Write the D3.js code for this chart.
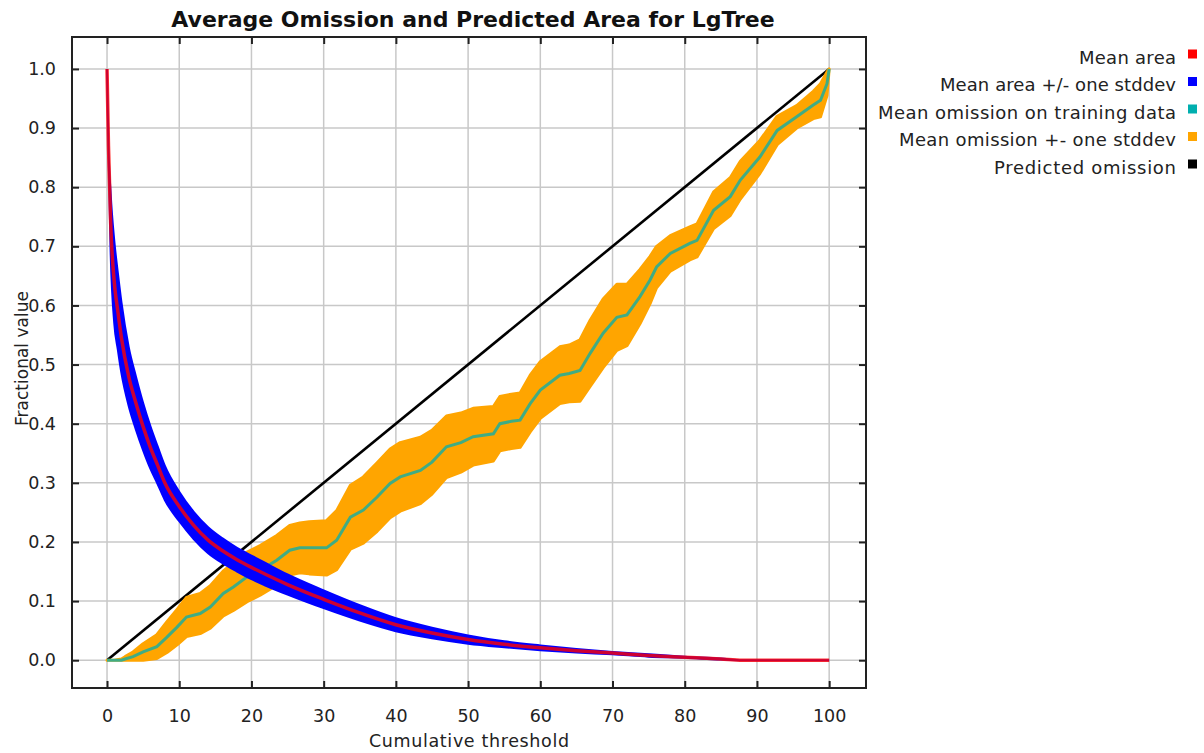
<!DOCTYPE html>
<html>
<head>
<meta charset="utf-8">
<script src="https://cdn.jsdelivr.net/npm/d3@7"></script>
<style>
  html, body { margin: 0; padding: 0; background: #fff; }
  svg { display: block; }
  text { font-family: "DejaVu Sans", sans-serif; fill: #222; }
</style>
</head>
<body>
<svg id="chart" width="1204" height="753"></svg>
<script>
// ---- Data ----
const title = "Average Omission and Predicted Area for LgTree";
const xLabel = "Cumulative threshold";
const yLabel = "Fractional value";
const xTicks = [0, 10, 20, 30, 40, 50, 60, 70, 80, 90, 100];
const yTicks = [0.0, 0.1, 0.2, 0.3, 0.4, 0.5, 0.6, 0.7, 0.8, 0.9, 1.0];

// Mean area (red) and its stddev (blue band)
const areaX  = [0, 0.2, 0.5, 1, 1.5, 2, 3, 4, 5, 6, 7, 8, 10, 12, 14, 16, 18, 20, 22, 25, 30, 35, 40, 45, 50, 55, 60, 65, 70, 75, 80, 85, 88, 100];
const areaY  = [1.0, 0.87, 0.74, 0.64, 0.59, 0.545, 0.48, 0.435, 0.395, 0.36, 0.33, 0.3, 0.26, 0.228, 0.203, 0.185, 0.17, 0.157, 0.145, 0.128, 0.103, 0.08, 0.06, 0.046, 0.035, 0.027, 0.021, 0.016, 0.012, 0.008, 0.005, 0.002, 0, 0];
const areaSd = [0, 0, 0.05, 0.07, 0.065, 0.06, 0.05, 0.045, 0.04, 0.036, 0.032, 0.029, 0.025, 0.023, 0.022, 0.021, 0.02, 0.02, 0.019, 0.017, 0.015, 0.013, 0.011, 0.009, 0.007, 0.005, 0.004, 0.003, 0.002, 0.002, 0.001, 0.001, 0, 0];

// Mean omission on training data (teal) and its stddev (orange band)
const omX  = [0, 1, 2, 2.5, 3.6, 5, 6.9, 8.3, 9.7, 11, 12.9, 14.3, 16.1, 17.5, 19.4, 21.2, 23.5, 25.3, 26.7, 28, 30.4, 31.8, 33.7, 35.5, 37.4, 39.2, 40.6, 43.4, 45, 47, 49, 50.7, 53.5, 54.4, 56, 57.2, 58.6, 60, 62.7, 64, 65.5, 66.9, 68.7, 70.6, 72, 73.8, 75.2, 76.1, 78, 80.7, 81.7, 84, 86.3, 87.7, 90.4, 92.8, 95.5, 97.8, 98.8, 99.7, 100];
const omY  = [0, 0, 0, 0.002, 0.006, 0.014, 0.023, 0.039, 0.056, 0.073, 0.079, 0.09, 0.113, 0.124, 0.141, 0.152, 0.169, 0.186, 0.19, 0.19, 0.19, 0.203, 0.242, 0.254, 0.276, 0.299, 0.31, 0.321, 0.335, 0.361, 0.368, 0.378, 0.383, 0.40, 0.404, 0.406, 0.434, 0.457, 0.482, 0.485, 0.49, 0.519, 0.553, 0.58, 0.584, 0.615, 0.643, 0.665, 0.688, 0.705, 0.71, 0.761, 0.784, 0.812, 0.851, 0.896, 0.919, 0.939, 0.947, 0.975, 1.0];
const omSd = [0, 0, 0.002, 0.004, 0.008, 0.014, 0.02, 0.026, 0.03, 0.033, 0.034, 0.036, 0.038, 0.04, 0.042, 0.042, 0.042, 0.042, 0.042, 0.044, 0.046, 0.05, 0.054, 0.056, 0.058, 0.058, 0.058, 0.056, 0.054, 0.052, 0.05, 0.048, 0.046, 0.046, 0.046, 0.046, 0.048, 0.048, 0.048, 0.048, 0.052, 0.056, 0.058, 0.056, 0.052, 0.046, 0.04, 0.035, 0.03, 0.028, 0.028, 0.031, 0.032, 0.032, 0.028, 0.024, 0.019, 0.023, 0.028, 0.02, 0];

// Predicted omission (black)
const predX = [0, 100];
const predY = [0, 1];

const legendLabels = ["Mean area", "Mean area +/- one stddev", "Mean omission on training data", "Mean omission +- one stddev", "Predicted omission"];
const legendWidths = [97, 236, 298, 277, 182];
const legendColors = ["#ff0000", "#0000ff", "#00afaf", "#ffa500", "#000000"];

// ---- Layout ----
const plot = { left: 72, top: 37, right: 866, bottom: 688 };
const svg = d3.select("#chart");

const x = d3.scaleLinear().domain([-4.85, 105.1]).range([plot.left, plot.right]);
const y = d3.scaleLinear().domain([-0.047, 1.054]).range([plot.bottom, plot.top]);

// Title
svg.append("text")
  .attr("x", (plot.left + plot.right) / 2 + 4).attr("y", 27)
  .attr("text-anchor", "middle")
  .style("font-weight", "bold").style("font-size", "22px").style("fill", "#111")
  .text(title);

// Gridlines
const grid = svg.append("g");
grid.selectAll("line.gx").data(xTicks).join("line")
  .attr("x1", d => x(d)).attr("x2", d => x(d))
  .attr("y1", plot.top).attr("y2", plot.bottom)
  .attr("stroke", "#c8c8c8").attr("stroke-width", 1.5);
grid.selectAll("line.gy").data(yTicks).join("line")
  .attr("y1", d => y(d)).attr("y2", d => y(d))
  .attr("x1", plot.left).attr("x2", plot.right)
  .attr("stroke", "#c8c8c8").attr("stroke-width", 1.5);

// Clip
svg.append("clipPath").attr("id", "clip").append("rect")
  .attr("x", plot.left).attr("y", plot.top)
  .attr("width", plot.right - plot.left).attr("height", plot.bottom - plot.top);
const g = svg.append("g").attr("clip-path", "url(#clip)");

// Predicted omission (bottom layer)
const predData = predX.map((v, i) => ({ x: v, y: predY[i] }));
g.append("path").datum(predData)
  .attr("fill", "none").attr("stroke", "#000").attr("stroke-width", 2.6)
  .attr("d", d3.line().x(d => x(d.x)).y(d => y(d.y)));

// Omission band
const omData = omX.map((v, i) => ({ x: v, y: omY[i], sd: omSd[i] }));
g.append("path").datum(omData)
  .attr("fill", "#ffa500").attr("stroke", "#ffa500").attr("stroke-width", 3).attr("stroke-linejoin", "round")
  .attr("d", d3.area().x(d => x(d.x)).y0(d => y(Math.max(0, d.y - d.sd))).y1(d => y(d.y + d.sd)));

// Omission mean line
g.append("path").datum(omData)
  .attr("fill", "none").attr("stroke", "#00afaf").attr("stroke-opacity", 0.75).attr("stroke-width", 3)
  .attr("d", d3.line().x(d => x(d.x)).y(d => y(d.y)));

// Area band
const areaData = areaX.map((v, i) => ({ x: v, y: areaY[i], sd: areaSd[i] }));
g.append("path").datum(areaData)
  .attr("fill", "#0000ff").attr("stroke", "#0000ff").attr("stroke-width", 2)
  .attr("d", d3.area().x(d => x(d.x)).y0(d => y(Math.max(0, d.y - d.sd))).y1(d => y(d.y + d.sd)).curve(d3.curveMonotoneX));

// Mean area line
g.append("path").datum(areaData)
  .attr("fill", "none").attr("stroke", "#ff0000").attr("stroke-opacity", 0.8).attr("stroke-width", 3.5)
  .attr("d", d3.line().x(d => x(d.x)).y(d => y(d.y)).curve(d3.curveMonotoneX));

// Frame
svg.append("rect")
  .attr("x", plot.left).attr("y", plot.top)
  .attr("width", plot.right - plot.left).attr("height", plot.bottom - plot.top)
  .attr("fill", "none").attr("stroke", "#222").attr("stroke-width", 2);

// Axes (ticks inward, labels outside)
const tickLen = 7;
const axB = svg.append("g").attr("transform", `translate(0,${plot.bottom})`)
  .call(d3.axisBottom(x).tickValues(xTicks).tickSize(-tickLen).tickPadding(22).tickFormat(d3.format("d")));
const axT = svg.append("g").attr("transform", `translate(0,${plot.top})`)
  .call(d3.axisTop(x).tickValues(xTicks).tickSize(-tickLen).tickFormat(""));
const axL = svg.append("g").attr("transform", `translate(${plot.left},0)`)
  .call(d3.axisLeft(y).tickValues(yTicks).tickSize(-tickLen).tickPadding(16).tickFormat(d3.format(".1f")));
const axR = svg.append("g").attr("transform", `translate(${plot.right},0)`)
  .call(d3.axisRight(y).tickValues(yTicks).tickSize(-tickLen).tickFormat(""));
[axB, axT, axL, axR].forEach(a => {
  a.select(".domain").remove();
  a.selectAll(".tick line").attr("stroke", "#222").attr("stroke-width", 2);
  a.selectAll(".tick text").style("font-family", "DejaVu Sans, sans-serif").style("font-size", "17.5px").style("fill", "#222");
});

// Axis titles
svg.append("text")
  .attr("x", 469).attr("y", 747)
  .attr("text-anchor", "middle").style("font-size", "17.5px")
  .attr("textLength", 200).attr("lengthAdjust", "spacing")
  .text(xLabel);
svg.append("text")
  .attr("transform", `translate(28,${(plot.top + plot.bottom) / 2 - 4}) rotate(-90)`)
  .attr("text-anchor", "middle").style("font-size", "17px")
  .text(yLabel);

// Legend
const leg = svg.append("g");
legendLabels.forEach((lab, i) => {
  const by = 63.5 + i * 27.5;
  leg.append("text").attr("x", 1176 - legendWidths[i]).attr("y", by)
    .style("font-size", "18px")
    .attr("textLength", legendWidths[i]).attr("lengthAdjust", "spacing")
    .text(lab);
  leg.append("rect").attr("x", 1188).attr("y", by - 14).attr("width", 9).attr("height", 9)
    .attr("fill", legendColors[i]);
});
</script>
</body>
</html>
